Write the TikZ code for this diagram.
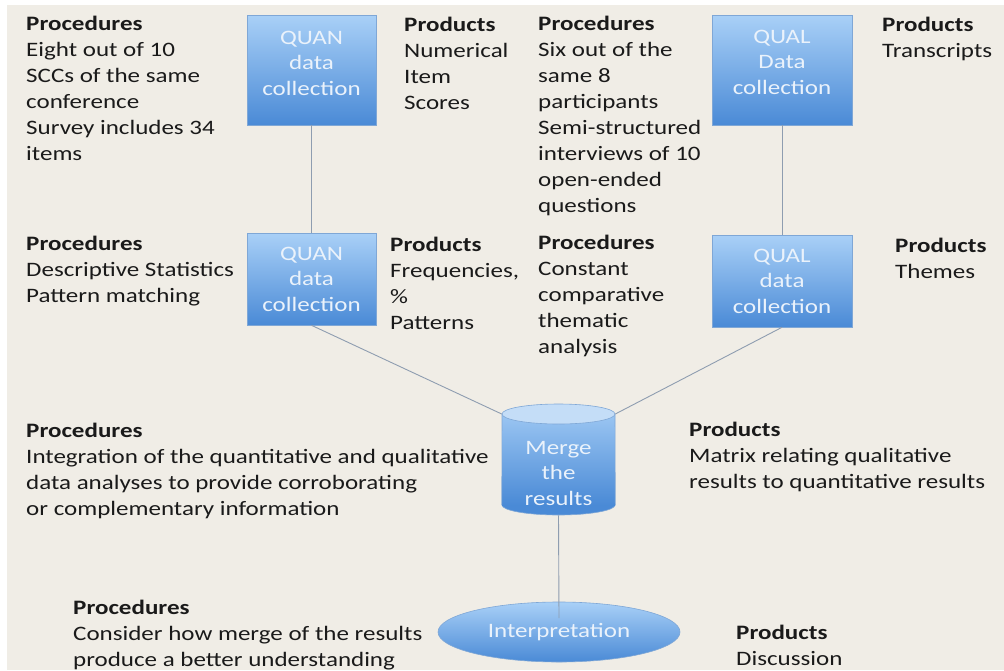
\documentclass[tikz,border=0pt]{standalone}
\usepackage{fontspec}
\setmainfont{Carlito}[FakeStretch=1.22]
\usetikzlibrary{shapes.geometric,calc}
\definecolor{bg}{HTML}{F0EDE6}
\definecolor{ink}{HTML}{1A1A1A}
\definecolor{boxtop}{HTML}{A9D0F7}
\definecolor{boxbot}{HTML}{4A8AD6}
\definecolor{boxedge}{HTML}{7FA7D6}
\definecolor{boxtext}{HTML}{EAF2FB}
\definecolor{cyllid}{HTML}{C4DDF7}
\definecolor{linkc}{HTML}{8E9DB0}
\begin{document}
% text blocks are anchored at the baseline of their last line
\begin{tikzpicture}[x=1pt,y=-1pt,
  txt/.style={anchor=base west, align=left, inner sep=0pt, text=ink,
    font=\fontsize{20.5}{26}\selectfont},
  box/.style={rectangle, draw=boxedge, line width=0.6pt,
    top color=boxtop, bottom color=boxbot, inner sep=0pt},
  boxtxt/.style={align=center, inner sep=0pt, text=boxtext,
    font=\fontsize{20.5}{25.5}\selectfont},
  link/.style={draw=linkc, line width=0.9pt}]
% page and canvas
\fill[white] (0,0) rectangle (1004,670);
\fill[bg] (7,5) rectangle (1004,670);
\useasboundingbox (0,0) rectangle (1004,670);

% data collection and analysis boxes
\node[box, minimum width=129pt, minimum height=110pt] (quan1) at (311.5,70) {};
\node[box, minimum width=140pt, minimum height=110pt] (qual1) at (782,70) {};
\node[box, minimum width=129pt, minimum height=92pt] (quan2) at (311.5,279) {};
\node[box, minimum width=140pt, minimum height=92pt] (qual2) at (782,281) {};
\node[boxtxt] at (311.5,63) {QUAN\\data\\collection};
\node[boxtxt] at (782,62) {QUAL\\Data\\collection};
\node[boxtxt] at (311.5,279) {QUAN\\data\\collection};
\node[boxtxt] at (782,281) {QUAL\\data\\collection};

% merge cylinder (lid, body, base)
\coordinate (cylbaseL) at (502,414);
\coordinate (cylbaseR) at (615,414);
\node[ellipse, inner sep=0pt, minimum width=113pt, minimum height=20pt,
  fill=boxbot, draw=boxedge, line width=0.6pt] (cylbase) at (558.5,505) {};
\path[top color=boxtop!85!boxbot, bottom color=boxbot] (502,414) rectangle (615,505);
\draw[boxedge, line width=0.6pt] (cylbaseL) -- (cylbase.west)
  (cylbaseR) -- (cylbase.east);
\node[ellipse, inner sep=0pt, minimum width=113pt, minimum height=20pt,
  fill=cyllid, draw=boxedge, line width=0.6pt] (cyltop) at (558.5,414) {};
\node[boxtxt] (merge) at (558.5,473) {Merge\\the\\results};

% interpretation
\node[ellipse, inner sep=0pt, minimum width=242pt, minimum height=60pt,
  top color=boxtop, bottom color=boxbot, draw=boxedge, line width=0.6pt] (interp) at (559,632) {};
\coordinate (interpin) at (559,618);

% connectors
\draw[link] (quan1.south) -- (quan2.north);
\draw[link] (qual1.south) -- (qual2.north);
\draw[link] (quan2.south) -- (cyltop.west);
\draw[link] (qual2.south) -- (cyltop.east);
\draw[link] (cylbase.south) -- (interpin);
\node[boxtxt] (interplabel) at (559,632) {Interpretation};

% procedures and products
\node[txt] (p1) at (26,160) {\textbf{Procedures}\\Eight out of 10\\SCCs of the same\\conference\\Survey includes 34\\items};
\node[txt] (r1) at (404,109) {\textbf{Products}\\Numerical\\Item\\Scores};
\node[txt] (p2) at (538,212) {\textbf{Procedures}\\Six out of the\\same 8\\participants\\Semi-structured\\interviews of 10\\open-ended\\questions};
\node[txt] (r2) at (882,57) {\textbf{Products}\\Transcripts};

\node[txt] (p3) at (26,302) {\textbf{Procedures}\\Descriptive Statistics\\Pattern matching};
\node[txt] (r3) at (390,329) {\textbf{Products}\\Frequencies,\\\%\\Patterns};
\node[txt] (p4) at (538,353) {\textbf{Procedures}\\Constant\\comparative\\thematic\\analysis};
\node[txt] (r4) at (895,278) {\textbf{Products}\\Themes};

\node[txt] (p5) at (26,515) {\textbf{Procedures}\\Integration of the quantitative and qualitative\\data analyses to provide corroborating\\or complementary information};
\node[txt] (r5) at (689,488) {\textbf{Products}\\Matrix relating qualitative\\results to quantitative results};

\node[txt] (p6) at (73,666) {\textbf{Procedures}\\Consider how merge of the results\\produce a better understanding};
\node[txt] (r6) at (736,665) {\textbf{Products}\\Discussion};
\end{tikzpicture}
\end{document}
